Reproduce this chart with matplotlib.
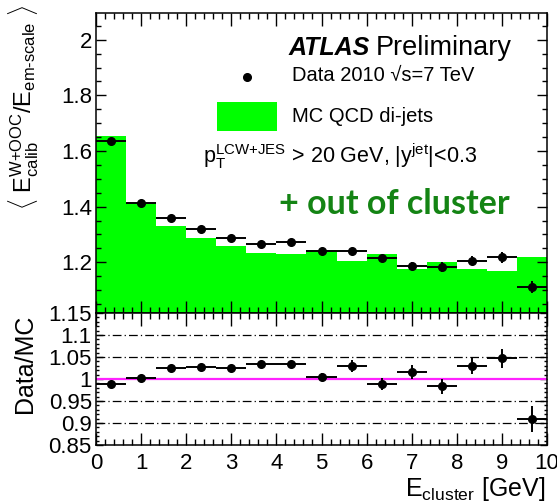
import numpy as np
import matplotlib
matplotlib.use("Agg")
import matplotlib.pyplot as plt
from matplotlib.ticker import MultipleLocator, FormatStrFormatter

plt.rcParams['font.family'] = ['Liberation Sans', 'DejaVu Sans']
plt.rcParams['mathtext.fontset'] = 'custom'
plt.rcParams['mathtext.rm'] = 'Liberation Sans'
plt.rcParams['mathtext.it'] = 'Liberation Sans:italic'
plt.rcParams['mathtext.bf'] = 'Liberation Sans:bold'

# 15 bins of E_cluster between 0 and 10 GeV
bin_edges = np.linspace(0, 10, 16)

mc_response = [1.655, 1.414, 1.331, 1.287, 1.259, 1.232, 1.230, 1.244,
               1.206, 1.230, 1.175, 1.201, 1.174, 1.169, 1.220]
data_response = [1.636, 1.414, 1.360, 1.319, 1.288, 1.267, 1.272, 1.242,
                 1.241, 1.214, 1.187, 1.182, 1.205, 1.218, 1.110]
data_err = [0.003, 0.003, 0.004, 0.004, 0.004, 0.005, 0.006, 0.008,
            0.010, 0.012, 0.014, 0.018, 0.016, 0.020, 0.022]
ratio = [0.989, 1.002, 1.024, 1.027, 1.024, 1.033, 1.033, 1.004,
         1.030, 0.989, 1.015, 0.983, 1.030, 1.047, 0.909]
ratio_err = [0.003, 0.003, 0.004, 0.004, 0.004, 0.005, 0.006, 0.009,
             0.014, 0.014, 0.016, 0.018, 0.019, 0.021, 0.030]
ref_levels = [0.9, 0.95, 1.05, 1.1]

centers = 0.5 * (bin_edges[:-1] + bin_edges[1:])
half_w = 0.5 * np.diff(bin_edges)

W, H = 557, 503
fig = plt.figure(figsize=(W / 100, H / 100), dpi=100)
ax1 = fig.add_axes([96 / W, 1 - 313 / H, 451 / W, 300 / H])
ax2 = fig.add_axes([96 / W, 1 - 445 / H, 451 / W, 132 / H])


def ax1_pos(x, y):
    # pixel position -> axes fraction of the upper panel
    return (x - 96) / 451, (313 - y) / 300


# upper panel: MC histogram and data points
ax1.stairs(mc_response, bin_edges, fill=True, color='#00ff00', linewidth=0)
ax1.errorbar(centers, data_response, xerr=half_w, yerr=data_err, fmt='o',
             color='black', ms=5.5, elinewidth=1.4, capsize=0)
ax1.set_xlim(0, 10)
ax1.set_ylim(1.0176, 2.096)
ax1.xaxis.set_major_locator(MultipleLocator(1))
ax1.xaxis.set_minor_locator(MultipleLocator(0.2))
ax1.yaxis.set_major_locator(MultipleLocator(0.2))
ax1.yaxis.set_minor_locator(MultipleLocator(0.05))
ax1.yaxis.set_major_formatter(FormatStrFormatter('%g'))
ax1.set_yticks([1.2, 1.4, 1.6, 1.8, 2.0])
ax1.tick_params(which='both', direction='in', top=True, right=True,
                labelbottom=False, labelsize=16, pad=3, width=1)
ax1.tick_params(axis='x', which='major', length=9)
ax1.tick_params(axis='x', which='minor', length=4.5)
ax1.tick_params(axis='y', which='major', length=7)
ax1.tick_params(axis='y', which='minor', length=3.5)

# lower panel: data/MC ratio
for lvl in ref_levels:
    ax2.axhline(lvl, color='black', lw=0.9, dashes=(7, 2.5, 1, 2.5))
ax2.axhline(1.0, color='#ff22ff', lw=1.6)
ax2.errorbar(centers, ratio, xerr=half_w, yerr=ratio_err, fmt='o',
             color='black', ms=5.5, elinewidth=1.4, capsize=0, zorder=5)
ax2.set_xlim(0, 10)
ax2.set_ylim(0.85, 1.15)
ax2.xaxis.set_major_locator(MultipleLocator(1))
ax2.xaxis.set_minor_locator(MultipleLocator(0.2))
ax2.yaxis.set_major_locator(MultipleLocator(0.05))
ax2.yaxis.set_minor_locator(MultipleLocator(0.01))
ax2.yaxis.set_major_formatter(FormatStrFormatter('%g'))
ax2.xaxis.set_major_formatter(FormatStrFormatter('%g'))
ax2.tick_params(which='both', direction='in', top=True, right=True,
                labelsize=16, width=1)
ax2.tick_params(axis='x', which='major', length=9, pad=6)
ax2.tick_params(axis='x', which='minor', length=4.5)
ax2.tick_params(axis='y', which='major', length=5, pad=3)
ax2.tick_params(axis='y', which='minor', length=2.5)

for ax in (ax1, ax2):
    for sp in ax.spines.values():
        sp.set_linewidth(1.1)

# labels and annotations
fig.text(289 / W, 1 - 55 / H, 'ATLAS', fontsize=18, fontweight='bold',
         fontstyle='italic', va='baseline')
fig.text(376 / W, 1 - 55 / H, 'Preliminary', fontsize=19.5, va='baseline')

ax1.plot(*ax1_pos(246.7, 76.7), 'o', color='black', ms=5.5,
         transform=ax1.transAxes, clip_on=False)
fig.text(292 / W, 1 - 76 / H, 'Data 2010 \u221As=7 TeV',
         fontsize=14.5, va='center')
x0, y0 = ax1_pos(216.7, 131)
x1, y1 = ax1_pos(277, 102.3)
ax1.add_patch(plt.Rectangle((x0, y0), x1 - x0, y1 - y0, color='#00ff00',
                            transform=ax1.transAxes, lw=0))
fig.text(292 / W, 1 - 116 / H, 'MC QCD di-jets', fontsize=14.5, va='center')
fig.text(203 / W, 1 - 163 / H,
         r'$\mathregular{p_T^{LCW{+}JES}}$ > 20 GeV, |$\mathregular{y^{jet}}$|<0.3',
         fontsize=15.5, va='baseline')
fig.text(279 / W, 1 - 214 / H, '+ out of cluster', family='Lato',
         fontweight='bold', fontsize=24.5, color='#148414', va='baseline')

ylabel = (r'$\langle\ \mathregular{E^{W{+}OOC}_{calib}/E_{em' + '\u2010'
          + r'scale}}\ \rangle$')
fig.text(24 / W, 1 - 108 / H, ylabel, rotation=90, ha='center', va='center',
         fontsize=17)
fig.text(25 / W, 1 - 364 / H, 'Data/MC', rotation=90, ha='center',
         va='center', fontsize=18)
fig.text(545 / W, 1 - 496 / H, r'$\mathregular{E_{cluster}}$ [GeV]',
         ha='right', va='baseline', fontsize=18)

fig.savefig('out.png', dpi=100)
